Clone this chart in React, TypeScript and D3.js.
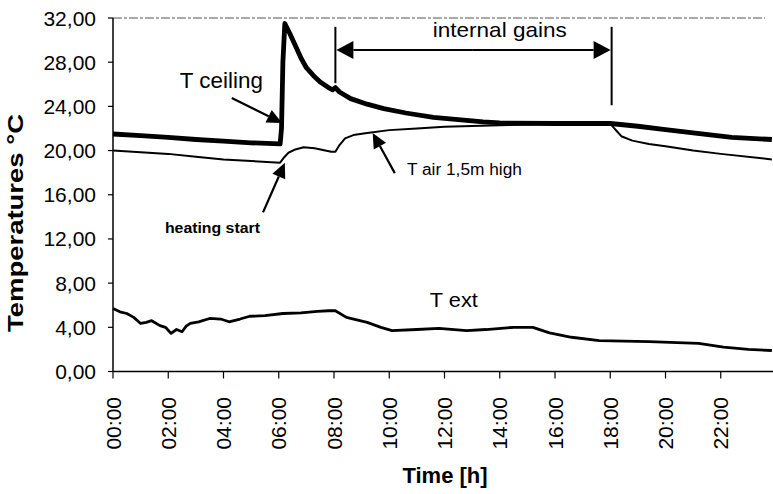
import React from "react";
import * as d3 from "d3";

// ---------- data ----------
const yTickValues = [0, 4, 8, 12, 16, 20, 24, 28, 32];
const yTickLabels = ["0,00", "4,00", "8,00", "12,00", "16,00", "20,00", "24,00", "28,00", "32,00"];
const xTickHours = [0, 2, 4, 6, 8, 10, 12, 14, 16, 18, 20, 22];
const xTickLabels = ["00:00", "02:00", "04:00", "06:00", "08:00", "10:00", "12:00", "14:00", "16:00", "18:00", "20:00", "22:00"];

const ceilingHours = [0, 1, 2, 3, 4, 5, 6.05, 6.1, 6.15, 6.22, 6.4, 6.6, 6.8, 7.0, 7.25, 7.5, 7.8, 7.95, 8.05, 8.2, 8.6, 9.2, 9.8, 10.6, 11.6, 12.5, 13.4, 14, 16, 18, 19, 20, 21, 22.4, 23.85];
const ceilingTemps = [21.5, 21.35, 21.2, 21.0, 20.85, 20.7, 20.6, 22, 28, 31.5, 30.6, 29.5, 28.4, 27.5, 26.8, 26.2, 25.7, 25.5, 25.7, 25.3, 24.7, 24.2, 23.8, 23.4, 23.0, 22.8, 22.6, 22.5, 22.45, 22.45, 22.2, 21.9, 21.6, 21.2, 21.0];

const airHours = [0, 1, 2, 3, 4, 5, 6.05, 6.2, 6.35, 6.6, 6.9, 7.3, 7.9, 8.05, 8.2, 8.4, 8.7, 9.2, 10, 11, 12, 14, 16, 18, 18.15, 18.4, 18.8, 19.4, 20, 21, 22, 23.85];
const airTemps = [20.0, 19.85, 19.7, 19.45, 19.2, 19.05, 18.9, 19.4, 19.8, 20.1, 20.3, 20.2, 19.9, 19.9, 20.5, 21.1, 21.4, 21.6, 21.85, 22.0, 22.15, 22.3, 22.4, 22.45, 22.0, 21.3, 20.9, 20.6, 20.4, 20.0, 19.7, 19.2];

const extHours = [0, 0.25, 0.5, 0.75, 1, 1.2, 1.4, 1.7, 1.9, 2.1, 2.3, 2.5, 2.65, 2.8, 3.1, 3.5, 3.9, 4.2, 4.6, 4.95, 5.5, 6.15, 6.8, 7.4, 7.8, 8.05, 8.45, 9.2, 9.7, 10.1, 11, 11.8, 12.8, 13.5, 14.5, 15.2, 15.8, 16.6, 17.6, 19.4, 21.2, 22.1, 23, 23.85];
const extTemps = [5.7, 5.4, 5.25, 4.9, 4.35, 4.45, 4.6, 4.15, 4.0, 3.45, 3.8, 3.6, 4.1, 4.35, 4.5, 4.8, 4.75, 4.5, 4.75, 5.0, 5.05, 5.25, 5.3, 5.45, 5.5, 5.5, 4.9, 4.45, 4.0, 3.7, 3.8, 3.9, 3.7, 3.8, 4.0, 4.0, 3.5, 3.1, 2.8, 2.7, 2.55, 2.2, 2.0, 1.9];

// ---------- layout ----------
const W = 773;
const H = 494;
const x = d3.scaleLinear().domain([0, 24]).range([113, 776]);
const y = d3.scaleLinear().domain([0, 32]).range([371.5, 18]);
const xEnd = 773;

const FONT = "Arial, 'Liberation Sans', sans-serif";

function toPairs(hs: number[], vs: number[]): [number, number][] {
  return hs.map((h, i) => [h, vs[i]] as [number, number]);
}

const line = d3
  .line<[number, number]>()
  .x((d) => x(d[0]))
  .y((d) => y(d[1]))
  .curve(d3.curveLinear);

function Arrow({ x1, y1, x2, y2, len = 15, half = 7, sw = 2 }: any) {
  const dx = x2 - x1;
  const dy = y2 - y1;
  const L = Math.sqrt(dx * dx + dy * dy);
  const ux = dx / L;
  const uy = dy / L;
  const bx = x2 - ux * len;
  const by = y2 - uy * len;
  const px = -uy;
  const py = ux;
  const pts = [
    [x2, y2],
    [bx + px * half, by + py * half],
    [bx - px * half, by - py * half],
  ]
    .map((p) => p.join(","))
    .join(" ");
  return (
    <g>
      <line x1={x1} y1={y1} x2={bx} y2={by} stroke="#000" strokeWidth={sw} />
      <polygon points={pts} fill="#000" />
    </g>
  );
}

export default function App() {
  const ceiling = toPairs(ceilingHours, ceilingTemps);
  const air = toPairs(airHours, airTemps);
  const ext = toPairs(extHours, extTemps);

  return (
    <svg
      width={W}
      height={H}
      style={{ position: "absolute", left: 0, top: 0, background: "#fff" }}
      fontFamily={FONT}
    >
      <rect x={0} y={0} width={W} height={H} fill="#fff" />
      {/* top frame (dotted scan) */}
      <line x1={113} y1={y(32)} x2={xEnd - 8} y2={y(32)} stroke="#555" strokeWidth={1} strokeDasharray="9,2,3,2" />

      {/* axes */}
      <line x1={113} y1={y(32)} x2={113} y2={y(0)} stroke="#000" strokeWidth={1.5} />
      <line x1={113} y1={y(0)} x2={xEnd} y2={y(0)} stroke="#000" strokeWidth={1.5} />

      {yTickValues.map((v, i) => (
        <g key={"y" + v}>
          <line x1={108} x2={113} y1={y(v)} y2={y(v)} stroke="#000" strokeWidth={1.2} />
          <text x={96} y={y(v) + 7.5} textAnchor="end" fontSize={21} fill="#000">
            {yTickLabels[i]}
          </text>
        </g>
      ))}

      {xTickHours.map((h, i) => (
        <g key={"x" + h}>
          <line x1={x(h)} x2={x(h)} y1={y(0)} y2={y(0) + 7} stroke="#000" strokeWidth={1.2} />
          <text
            transform={`translate(${x(h) + 7.5},397) rotate(-90)`}
            textAnchor="end"
            fontSize={21}
            fill="#000"
          >
            {xTickLabels[i]}
          </text>
        </g>
      ))}

      {/* axis titles */}
      <text
        transform="translate(23,223) rotate(-90)"
        textAnchor="middle"
        fontSize={22}
        fontWeight="bold"
        textLength={218}
        lengthAdjust="spacingAndGlyphs"
      >
        Temperatures °C
      </text>
      <text x={445} y={483} textAnchor="middle" fontSize={22} fontWeight="bold">
        Time [h]
      </text>

      {/* series */}
      <path d={line(ext) || ""} fill="none" stroke="#000" strokeWidth={2.8} strokeLinejoin="round" />
      <path d={line(air) || ""} fill="none" stroke="#000" strokeWidth={2} strokeLinejoin="round" />
      <path d={line(ceiling) || ""} fill="none" stroke="#000" strokeWidth={4.8} strokeLinejoin="round" />

      {/* internal gains annotation */}
      <line x1={x(8.05)} x2={x(8.05)} y1={y(31.2)} y2={y(26.1)} stroke="#000" strokeWidth={2} />
      <line x1={x(18.05)} x2={x(18.05)} y1={y(31.2)} y2={y(24.1)} stroke="#000" strokeWidth={2} />
      <Arrow x1={x(13)} y1={y(29.1)} x2={x(8.05) + 1} y2={y(29.1)} len={17} half={9} sw={2} />
      <Arrow x1={x(13)} y1={y(29.1)} x2={x(18.05) - 1} y2={y(29.1)} len={17} half={9} sw={2} />
      <text x={x(14)} y={y(30.3)} textAnchor="middle" fontSize={21} textLength={134} lengthAdjust="spacingAndGlyphs">
        internal gains
      </text>

      {/* T ceiling */}
      <text x={x(2.42)} y={y(25.66)} fontSize={22} textLength={83} lengthAdjust="spacingAndGlyphs">
        T ceiling
      </text>
      <Arrow x1={x(4.3)} y1={y(24.75)} x2={x(6.12)} y2={y(22.5)} len={15} half={7} sw={2.2} />

      {/* T air */}
      <text x={x(10.64)} y={y(17.8)} fontSize={16} textLength={115} lengthAdjust="spacingAndGlyphs">
        T air 1,5m high
      </text>
      <Arrow x1={x(10.2)} y1={y(17.96)} x2={x(9.4)} y2={y(21.6)} len={15} half={7} sw={2.2} />

      {/* heating start */}
      <text x={x(1.88)} y={y(12.5)} fontSize={15} fontWeight="bold" textLength={95} lengthAdjust="spacingAndGlyphs">
        heating start
      </text>
      <Arrow x1={x(5.43)} y1={y(14.4)} x2={x(6.22)} y2={y(18.9)} len={15} half={7} sw={2.2} />

      {/* T ext */}
      <text x={x(11.47)} y={y(5.84)} fontSize={21} textLength={48} lengthAdjust="spacingAndGlyphs">
        T ext
      </text>
    </svg>
  );
}
